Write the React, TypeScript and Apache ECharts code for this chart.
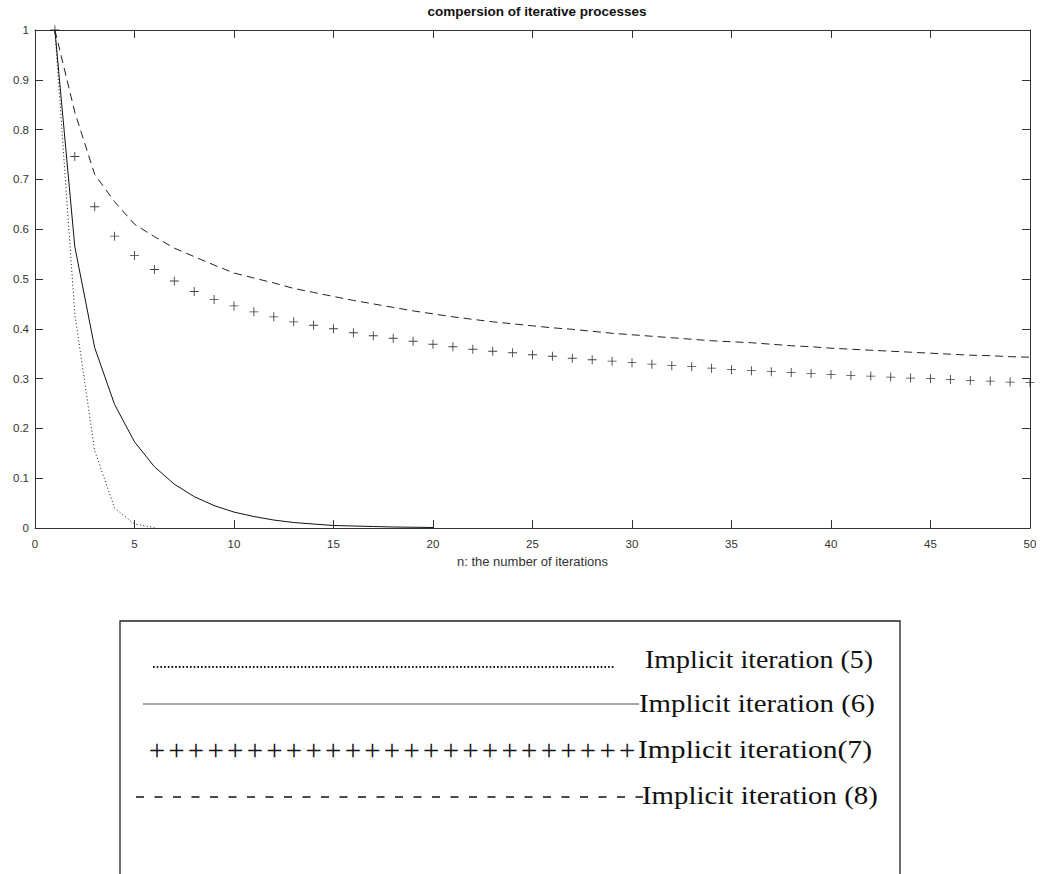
import React, { useEffect, useRef } from "react";
import * as echarts from "echarts";

// ---- data ----
const iter5 = [1, 2, 3, 4, 5, 6];
const err5 = [1, 0.43, 0.155, 0.04, 0.008, 0.001];

const iter6 = [1, 2, 3, 4, 5, 6, 7, 8, 9, 10, 11, 12, 13, 14, 15, 16, 17, 18, 19, 20];
const err6 = [1, 0.565, 0.362, 0.248, 0.173, 0.123, 0.088, 0.063, 0.045, 0.032, 0.023, 0.016, 0.011, 0.008, 0.005, 0.004, 0.003, 0.002, 0.0015, 0.001];

const iter50 = [
  1, 2, 3, 4, 5, 6, 7, 8, 9, 10, 11, 12, 13, 14, 15, 16, 17, 18, 19, 20, 21, 22, 23, 24, 25,
  26, 27, 28, 29, 30, 31, 32, 33, 34, 35, 36, 37, 38, 39, 40, 41, 42, 43, 44, 45, 46, 47, 48, 49, 50,
];
const err7 = [
  1, 0.746, 0.645, 0.586, 0.547, 0.519, 0.496, 0.475, 0.459, 0.446,
  0.434, 0.424, 0.414, 0.407, 0.4, 0.392, 0.386, 0.381, 0.375, 0.369,
  0.364, 0.359, 0.355, 0.352, 0.348, 0.345, 0.341, 0.338, 0.335, 0.332,
  0.329, 0.326, 0.324, 0.321, 0.318, 0.316, 0.314, 0.312, 0.31, 0.308,
  0.306, 0.305, 0.303, 0.301, 0.3, 0.298, 0.296, 0.295, 0.293, 0.292,
];
const err8 = [
  1, 0.835, 0.71, 0.655, 0.61, 0.585, 0.562, 0.545, 0.528, 0.512,
  0.502, 0.492, 0.481, 0.473, 0.465, 0.457, 0.45, 0.443, 0.436, 0.43,
  0.424, 0.419, 0.414, 0.41, 0.406, 0.402, 0.399, 0.395, 0.391, 0.388,
  0.385, 0.382, 0.379, 0.376, 0.374, 0.372, 0.369, 0.366, 0.364, 0.361,
  0.359, 0.357, 0.355, 0.353, 0.351, 0.349, 0.347, 0.346, 0.344, 0.343,
];

const chartTitle = "compersion of iterative processes";
const xAxisName = "n: the number of iterations";
const legendLabels = [
  "Implicit iteration (5)",
  "Implicit iteration (6)",
  "Implicit iteration(7)",
  "Implicit iteration (8)",
];

const X_MIN = 0, X_MAX = 50, X_STEP = 5;
const Y_MIN = 0, Y_MAX = 1, Y_STEP = 0.1;

const pairs = (xs: number[], ys: number[]) => xs.map((x, i) => [x, ys[i]]);

const PLUS = "path://M4.5,0H5.5V4.5H10V5.5H5.5V10H4.5V5.5H0V4.5H4.5Z";
const AXIS_COLOR = "#333";
const LABEL_FONT = "'Liberation Sans', Arial, sans-serif";
const SERIF = "'Liberation Serif', 'Times New Roman', serif";

function measure(text: string, font: string): number {
  const c = document.createElement("canvas").getContext("2d");
  if (!c) return text.length * 10;
  c.font = font;
  return c.measureText(text).width;
}

export default function App() {
  const ref = useRef<HTMLDivElement>(null);

  useEffect(() => {
    if (!ref.current) return;
    const chart = echarts.init(ref.current, undefined, { renderer: "svg" });

    // legend box layout
    const FS = 25;
    const rows = [
      { y: 660, start: 645, end: 873 },
      { y: 704, start: 639, end: 875 },
      { y: 750, start: 638, end: 872 },
      { y: 796, start: 642, end: 878 },
    ];
    const graphics: any[] = [
      {
        type: "rect",
        shape: { x: 120, y: 621, width: 780, height: 300 },
        style: { fill: "none", stroke: "#222", lineWidth: 1.3 },
        silent: true,
      },
      // row 1 dotted leader
      {
        type: "line",
        shape: { x1: 153, y1: 667, x2: 614, y2: 667 },
        style: { stroke: "#111", lineWidth: 2, lineDash: [1.6, 2.1] },
      },
      // row 2 solid leader
      {
        type: "line",
        shape: { x1: 143, y1: 704, x2: 639, y2: 704 },
        style: { stroke: "#888", lineWidth: 1.6 },
      },
      // row 4 dashed leader
      {
        type: "line",
        shape: { x1: 136, y1: 797, x2: 643, y2: 797 },
        style: { stroke: "#111", lineWidth: 1.4, lineDash: [8, 10.5] },
      },
    ];
    // row 3 plus leader
    const plusCount = 25;
    const plusStep = (637 - 147) / plusCount;
    for (let i = 0; i < plusCount; i++) {
      graphics.push({
        type: "text",
        x: 147 + i * plusStep + plusStep / 2,
        y: 750,
        style: {
          text: "+",
          font: `${FS + 4}px ${SERIF}`,
          fill: "#111",
          textAlign: "center",
          textVerticalAlign: "middle",
          align: "center",
          verticalAlign: "middle",
        },
      });
    }
    legendLabels.forEach((label, i) => {
      const r = rows[i];
      const font = `${FS}px ${SERIF}`;
      const w = measure(label, font);
      const s = (r.end - r.start) / w;
      graphics.push({
        type: "text",
        x: r.start,
        y: r.y,
        scaleX: s,
        style: {
          text: label,
          font,
          fill: "#111",
          textAlign: "left",
          textVerticalAlign: "middle",
          align: "left",
          verticalAlign: "middle",
        },
      });
    });

    const frameAxis = {
      axisLine: { show: true, onZero: false, lineStyle: { color: AXIS_COLOR, width: 1 } },
      axisTick: { show: true, inside: true, length: 8, lineStyle: { color: AXIS_COLOR } },
      axisLabel: { show: false },
      splitLine: { show: false },
    };

    const option: any = {
      animation: false,
      backgroundColor: "#fff",
      title: {
        text: chartTitle,
        left: 532,
        top: 2,
        padding: [2, 5],
        textAlign: "center",
        textStyle: { fontSize: 13.5, fontWeight: "bold", fontFamily: LABEL_FONT, color: "#111" },
      },
      grid: { left: 35, top: 30, right: 11, bottom: 346, containLabel: false },
      xAxis: [
        {
          type: "value",
          min: X_MIN,
          max: X_MAX,
          interval: X_STEP,
          position: "bottom",
          name: xAxisName,
          nameLocation: "middle",
          nameGap: 18,
          nameTextStyle: { fontSize: 13, fontFamily: LABEL_FONT, color: "#333" },
          axisLine: { show: true, onZero: false, lineStyle: { color: AXIS_COLOR, width: 1 } },
          axisTick: { show: true, inside: true, length: 8, lineStyle: { color: AXIS_COLOR } },
          axisLabel: { fontSize: 11.5, fontFamily: LABEL_FONT, color: "#333", margin: 10 },
          splitLine: { show: false },
        },
        { type: "value", min: X_MIN, max: X_MAX, interval: X_STEP, position: "top", ...frameAxis },
      ],
      yAxis: [
        {
          type: "value",
          min: Y_MIN,
          max: Y_MAX,
          interval: Y_STEP,
          position: "left",
          axisLine: { show: true, onZero: false, lineStyle: { color: AXIS_COLOR, width: 1 } },
          axisTick: { show: true, inside: true, length: 8, lineStyle: { color: AXIS_COLOR } },
          axisLabel: { fontSize: 11.5, fontFamily: LABEL_FONT, color: "#333", margin: 6 },
          splitLine: { show: false },
        },
        { type: "value", min: Y_MIN, max: Y_MAX, interval: Y_STEP, position: "right", ...frameAxis },
      ],
      series: [
        {
          name: legendLabels[0],
          type: "line",
          data: pairs(iter5, err5),
          showSymbol: false,
          lineStyle: { color: "#111", width: 1, type: [1, 2.5] },
        },
        {
          name: legendLabels[1],
          type: "line",
          data: pairs(iter6, err6),
          showSymbol: false,
          lineStyle: { color: "#111", width: 1 },
        },
        {
          name: legendLabels[2],
          type: "scatter",
          data: pairs(iter50, err7),
          symbol: PLUS,
          symbolSize: 9,
          itemStyle: { color: "#111" },
        },
        {
          name: legendLabels[3],
          type: "line",
          data: pairs(iter50, err8),
          showSymbol: false,
          lineStyle: { color: "#222", width: 1, type: [8, 5] },
        },
      ],
      graphic: { elements: graphics },
    };

    chart.setOption(option);
    return () => chart.dispose();
  }, []);

  return (
    <div
      ref={ref}
      style={{ position: "absolute", left: 0, top: 0, width: 1041, height: 874, background: "#fff" }}
    />
  );
}
